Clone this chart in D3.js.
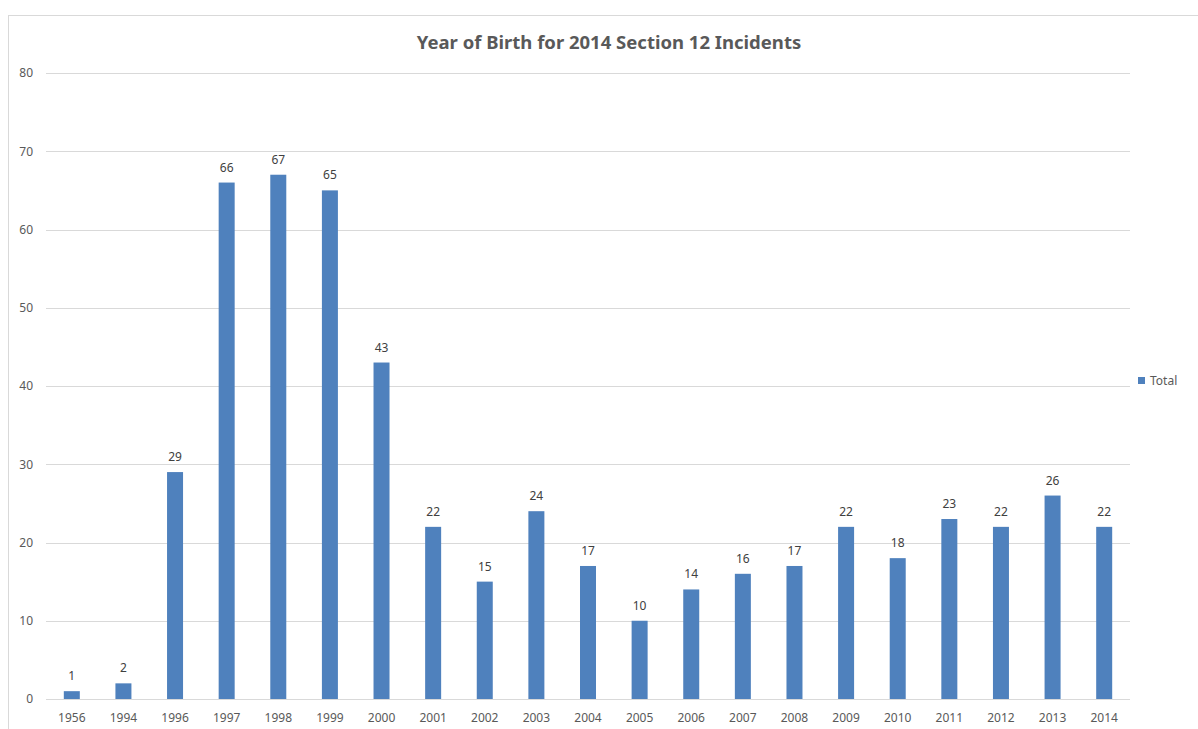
<!DOCTYPE html>
<html>
<head>
<meta charset="utf-8">
<script src="https://cdn.jsdelivr.net/npm/d3@7"></script>
<style>
  html, body { margin: 0; padding: 0; background: #fff; }
  svg { display: block; }
  text { font-family: "Noto Sans", "Liberation Sans", sans-serif; }
</style>
</head>
<body>
<svg id="chart" width="1198" height="729"></svg>
<script>
// Birth years of people involved in 2014 Section 12 incidents
const years = ["1956","1994","1996","1997","1998","1999","2000","2001","2002","2003","2004",
               "2005","2006","2007","2008","2009","2010","2011","2012","2013","2014"];
const totals = [1,2,29,66,67,65,43,22,15,24,17,10,14,16,17,22,18,23,22,26,22];
const yTicks = [0,10,20,30,40,50,60,70,80];
const seriesName = "Total";
const chartTitle = "Year of Birth for 2014 Section 12 Incidents";

const svg = d3.select("#chart");
const W = 1198, H = 729;
const margin = { left: 46, right: 68, top: 73, bottom: 30 };
const plotRight = 1130;
const barColor = "#4f81bd";
const textColor = "#595959";

// Chart frame (left and top edges visible)
svg.append("rect")
  .attr("x", 8.5).attr("y", 15.5)
  .attr("width", W + 10).attr("height", H + 10)
  .attr("fill", "#fff").attr("stroke", "#d9d9d9").attr("stroke-width", 1);

const x = d3.scaleBand()
  .domain(years)
  .range([margin.left, plotRight])
  .paddingInner(0.69)
  .paddingOuter(0.345);

const y = d3.scaleLinear()
  .domain([0, 80])
  .range([699, 73]);

// Horizontal gridlines
svg.append("g")
  .selectAll("line")
  .data(yTicks)
  .join("line")
  .attr("x1", margin.left).attr("x2", plotRight)
  .attr("y1", d => Math.round(y(d)) + 0.5).attr("y2", d => Math.round(y(d)) + 0.5)
  .attr("stroke", "#d9d9d9").attr("stroke-width", 1);

// Y axis labels
const yAxis = d3.axisLeft(y).tickValues(yTicks).tickSize(0).tickPadding(0);
const gy = svg.append("g").attr("transform", "translate(33,0)").call(yAxis);
gy.select(".domain").remove();
gy.selectAll("text")
  .attr("fill", textColor)
  .style("font-size", "12px");

// X axis labels
const xAxis = d3.axisBottom(x).tickSize(0).tickPadding(0);
const gx = svg.append("g").attr("transform", "translate(0,713)").call(xAxis);
gx.select(".domain").remove();
gx.selectAll("text")
  .attr("fill", textColor)
  .style("font-size", "12px");

// Bars
svg.append("g")
  .selectAll("rect")
  .data(years.map((yr, i) => ({ yr, v: totals[i] })))
  .join("rect")
  .attr("x", d => x(d.yr))
  .attr("y", d => y(d.v))
  .attr("width", x.bandwidth())
  .attr("height", d => y(0) - y(d.v))
  .attr("fill", barColor);

// Value labels
svg.append("g")
  .selectAll("text")
  .data(years.map((yr, i) => ({ yr, v: totals[i] })))
  .join("text")
  .attr("x", d => x(d.yr) + x.bandwidth() / 2)
  .attr("y", d => y(d.v) - 11)
  .attr("text-anchor", "middle")
  .attr("fill", "#404040")
  .style("font-size", "12px")
  .text(d => d.v);

// Title
svg.append("text")
  .attr("x", 609)
  .attr("y", 49)
  .attr("text-anchor", "middle")
  .attr("fill", textColor)
  .style("font-size", "18.5px")
  .style("font-weight", "bold")
  .text(chartTitle);

// Legend
const lg = svg.append("g").attr("transform", "translate(1138,377)");
lg.append("rect").attr("width", 7).attr("height", 7).attr("fill", barColor);
lg.append("text")
  .attr("x", 12).attr("y", 7.5)
  .attr("fill", textColor)
  .style("font-size", "12px")
  .text(seriesName);
</script>
</body>
</html>
